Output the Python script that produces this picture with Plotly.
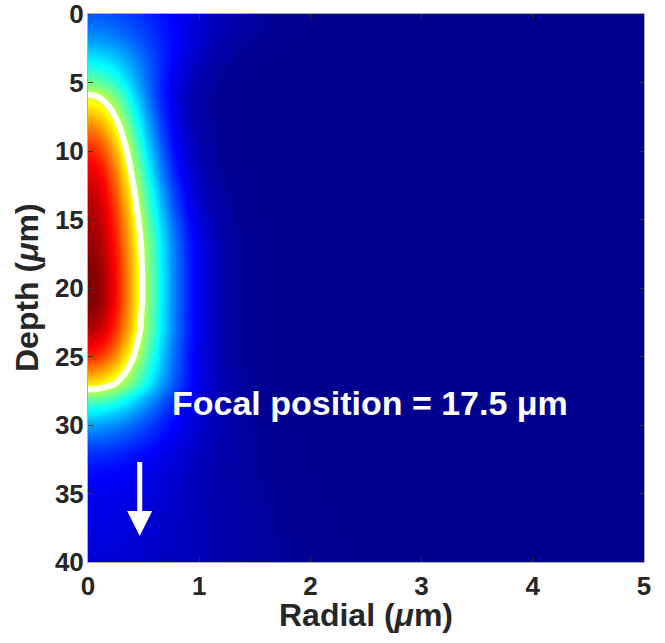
import numpy as np
import plotly.graph_objects as go

# ---- data ----
depth_um = list(range(0, 41))  # 0..40 um
# on-axis (r = 0) normalized intensity at each depth
axis_intensity = [0.20, 0.23, 0.27, 0.33, 0.40, 0.48, 0.58, 0.66, 0.73, 0.79,
                  0.84, 0.88, 0.91, 0.93, 0.95, 0.96, 0.97, 0.98, 0.99, 1.00,
                  1.00, 1.00, 0.98, 0.95, 0.90, 0.83, 0.74, 0.64, 0.47, 0.36,
                  0.27, 0.21, 0.16, 0.13, 0.11, 0.10, 0.09, 0.085, 0.08, 0.075,
                  0.07]
# 1/e radial half width of the spot at each depth (um)
beam_width_um = [0.95, 0.90, 0.82, 0.74, 0.66, 0.60, 0.56, 0.55, 0.55, 0.55,
                 0.56, 0.57, 0.58, 0.60, 0.61, 0.63, 0.64, 0.65, 0.65, 0.65,
                 0.65, 0.65, 0.65, 0.66, 0.66, 0.67, 0.69, 0.71, 0.74, 0.77,
                 0.82, 0.87, 0.92, 0.97, 1.02, 1.07, 1.12, 1.16, 1.20, 1.24,
                 1.28]
radial_um = np.round(np.arange(0, 5.0001, 0.025), 4)
contour_level = 0.57
x_ticks = [0, 1, 2, 3, 4, 5]
y_ticks = [0, 5, 10, 15, 20, 25, 30, 35, 40]
focal_text = "Focal position = 17.5 μm"
x_title = "Radial (<i>μ</i>m)"
y_title = "Depth (<i>μ</i>m)"
arrow_x = 0.465
arrow_from_depth = 32.6
arrow_to_depth = 38.1

# ---- field: radial Gaussian profile at each depth ----
A = np.array(axis_intensity)[:, None]
W = np.array(beam_width_um)[:, None]
R = radial_um[None, :]
field = A * np.exp(-(R / W) ** 2)

jet = [
    [0.0, "rgb(0,0,143)"],
    [0.111, "rgb(0,0,255)"],
    [0.365, "rgb(0,255,255)"],
    [0.619, "rgb(255,255,0)"],
    [0.873, "rgb(255,0,0)"],
    [1.0, "rgb(128,0,0)"],
]

fig = go.Figure()
fig.add_trace(go.Heatmap(
    x=radial_um, y=depth_um, z=field,
    colorscale=jet, zmin=0, zmax=1, zsmooth="best",
    showscale=False, hoverinfo="skip",
))
fig.add_trace(go.Contour(
    x=radial_um, y=depth_um, z=field,
    contours=dict(start=contour_level, end=contour_level, size=0.1,
                  coloring="none"),
    line=dict(color="rgba(255,255,255,0.95)", width=6, smoothing=1.3),
    showscale=False, hoverinfo="skip",
))

fig.add_annotation(
    x=2.54, y=28.4, xref="x", yref="y", text="<b>" + focal_text + "</b>",
    showarrow=False,
    font=dict(family="Liberation Sans, Arial", size=34, color="white"),
)
fig.add_annotation(
    x=arrow_x, y=arrow_to_depth, ax=arrow_x, ay=arrow_from_depth,
    xref="x", yref="y", axref="x", ayref="y", text="",
    showarrow=True, arrowhead=2, arrowsize=1, arrowwidth=5,
    arrowcolor="white", standoff=0,
)

titlefont = dict(family="Liberation Sans, Arial", size=32, color="#262626")
# axis titles placed as annotations for exact placement
fig.add_annotation(
    x=0.5, y=0, xref="paper", yref="paper", text="<b>" + x_title + "</b>",
    showarrow=False, xanchor="center", yanchor="middle", yshift=-53,
    font=titlefont,
)
fig.add_annotation(
    x=0, y=0.5, xref="paper", yref="paper", text="<b>" + y_title + "</b>",
    showarrow=False, xanchor="center", yanchor="middle", xshift=-61,
    textangle=-90, font=titlefont,
)

tickfont = dict(family="Liberation Sans, Arial", size=26, color="#262626")

fig.update_xaxes(
    range=[0, 5], tickvals=x_ticks, ticktext=[f"<b>{v}</b>" for v in x_ticks],
    tickfont=tickfont, ticks="inside", ticklen=5, tickcolor="#333",
    showline=True, linecolor="#b0b0b0", linewidth=1, mirror="ticks",
    showgrid=False, zeroline=False, automargin=False,
    ticklabeloverflow="allow", ticklabelstandoff=1,
)
fig.update_yaxes(
    range=[40, 0], tickvals=y_ticks, ticktext=[f"<b>{v}</b>" for v in y_ticks],
    tickfont=tickfont, ticks="inside", ticklen=5, tickcolor="#333",
    showline=True, linecolor="#b0b0b0", linewidth=1, mirror="ticks",
    showgrid=False, zeroline=False, automargin=False,
    ticklabeloverflow="allow", ticklabelstandoff=-2,
)

fig.update_layout(
    width=665, height=643,
    margin=dict(l=88, r=21, t=14, b=81),
    paper_bgcolor="white", plot_bgcolor="rgb(0,0,143)",
    showlegend=False,
)

# remove the default page margin so the figure sits at the window corner
fig.write_html(
    "out.html",
    config={"displayModeBar": False},
    post_script="document.body.style.margin='0';document.body.style.overflow='hidden';",
)
